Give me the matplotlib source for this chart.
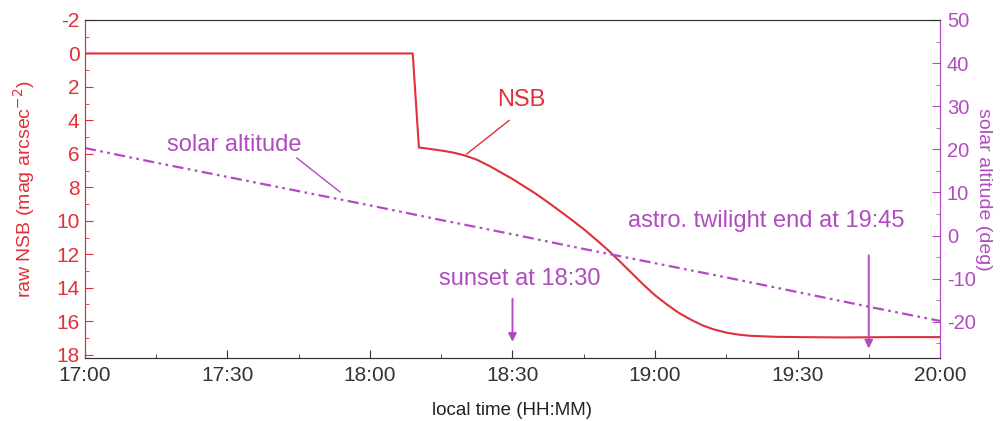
import matplotlib.pyplot as plt
from matplotlib.ticker import MultipleLocator, FuncFormatter

plt.rcParams['font.family'] = ['Liberation Sans', 'DejaVu Sans']
plt.rcParams['axes.unicode_minus'] = False

RED = '#e0303a'
PURPLE = '#b04cc0'

# minutes after 17:00
nsb_t = [0, 69, 70.3, 72.5, 75, 77.5, 80, 82.5, 85, 87.5, 90, 92.5, 95, 97.5,
         100, 102.5, 105, 107.5, 110, 112.5, 115, 117.5, 120, 122.5, 125,
         127.5, 130, 132.5, 135, 137.5, 140, 145, 150, 160, 170, 180]
nsb_val = [0, 0, 5.62, 5.7, 5.8, 5.92, 6.1, 6.35, 6.7, 7.1, 7.5, 7.95, 8.4,
           8.9, 9.42, 9.95, 10.5, 11.1, 11.72, 12.4, 13.1, 13.8, 14.45, 15.0,
           15.5, 15.9, 16.25, 16.5, 16.68, 16.8, 16.87, 16.93, 16.95, 16.97,
           16.95, 16.95]

sun_t = [0, 15, 30, 45, 60, 75, 90, 105, 120, 135, 150, 165, 180]
sun_alt = [20.3, 16.9, 13.6, 10.3, 7.0, 3.6, 0.3, -3.1, -6.4, -9.7, -13.1, -16.5, -19.8]

tick_labels = ['17:00', '17:30', '18:00', '18:30', '19:00', '19:30', '20:00']

fig = plt.figure(figsize=(10.03, 4.21), dpi=100)
ax = fig.add_axes([0.0847, 0.1496, 0.8525, 0.8029])
ax2 = ax.twinx()

ax.plot(nsb_t, nsb_val, color=RED, lw=1.5)
ax2.plot(sun_t, sun_alt, color=PURPLE, lw=1.6, dashes=[5, 2, 1.2, 2, 1.2, 2])

ax.set_xlim(0, 180)
ax.set_ylim(18.2, -2)
ax2.set_ylim(-28.4, 50)

ax.set_xticks(range(0, 181, 30))
ax.set_xticklabels(tick_labels)
ax.xaxis.set_minor_locator(MultipleLocator(15))
ax.yaxis.set_major_locator(MultipleLocator(2))
ax.yaxis.set_minor_locator(MultipleLocator(1))
ax2.yaxis.set_major_locator(MultipleLocator(10))
ax2.yaxis.set_minor_locator(MultipleLocator(5))
ax2.yaxis.set_major_formatter(FuncFormatter(lambda v, p: '%d' % v))

ax.tick_params(axis='x', which='both', direction='in', colors='#333333', labelsize=15, pad=6)
ax.tick_params(axis='x', which='major', length=6)
ax.tick_params(axis='x', which='minor', length=3)
ax.tick_params(axis='y', which='both', direction='in', colors=RED, labelsize=15, pad=4)
ax.tick_params(axis='y', which='major', length=6)
ax.tick_params(axis='y', which='minor', length=3)
ax2.tick_params(axis='y', which='both', direction='in', colors=PURPLE, labelsize=14.5, pad=5)
ax2.tick_params(axis='y', which='major', length=6)
ax2.tick_params(axis='y', which='minor', length=3)

for a in (ax, ax2):
    a.spines['top'].set_color('#333333')
    a.spines['bottom'].set_color('#333333')
    a.spines['left'].set_color(RED)
    a.spines['right'].set_color(PURPLE)

ax.set_xlabel('local time (HH:MM)', fontsize=13.5, color='#222222', labelpad=12)
ax.set_ylabel('raw NSB (mag arcsec$^{-2}$)', fontsize=14, color=RED, labelpad=14)
ax2.set_ylabel('solar altitude (deg)', fontsize=14, color=PURPLE, rotation=270, labelpad=12)

# annotations
ax.text(91.8, 2.76, 'NSB', color=RED, fontsize=17, ha='center', va='center')
ax.plot([89.3, 80.4], [4.0, 6.0], color=RED, lw=1)

ax2.text(31.4, 21.0, 'solar altitude', color=PURPLE, fontsize=17, ha='center', va='center')
ax2.plot([44.6, 53.7], [18.0, 10.1], color=PURPLE, lw=1)

ax.text(91.6, 13.5, 'sunset at 18:30', color=PURPLE, fontsize=17, ha='center', va='center')
ax.annotate('', xy=(90, 17.4), xytext=(90, 14.5),
            arrowprops=dict(arrowstyle='-|>', color=PURPLE, lw=1.4, mutation_scale=12))
ax.text(143.4, 10.0, 'astro. twilight end at 19:45', color=PURPLE, fontsize=17,
        ha='center', va='center')
ax.annotate('', xy=(165, 17.8), xytext=(165, 11.9),
            arrowprops=dict(arrowstyle='-|>', color=PURPLE, lw=1.4, mutation_scale=12))

fig.savefig('out.png', dpi=100)
